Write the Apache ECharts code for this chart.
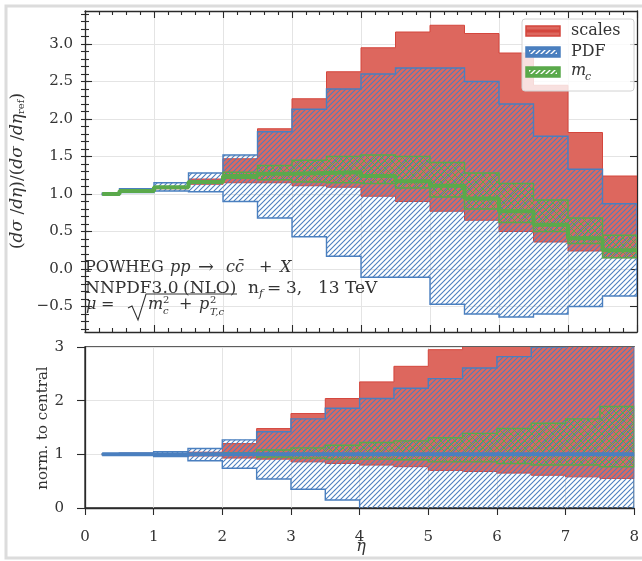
<!DOCTYPE html>
<html>
<head>
<meta charset="utf-8">
<script src="https://cdn.jsdelivr.net/npm/echarts@6/dist/echarts.min.js"></script>
<style>html,body{margin:0;padding:0;background:#fff}#c{width:642px;height:561px}</style>
</head>
<body>
<div id="c"></div>
<script>
// ---- data (bins in eta) ----
const edges = [0.25, 0.5, 1.0, 1.5, 2.0, 2.5, 3.0, 3.5, 4.0, 4.5, 5.0, 5.5, 6.0, 6.5, 7.0, 7.5, 8.0];
// top panel: (dsigma/deta)/(dsigma/deta_ref)
const central  = [1.00, 1.04, 1.09, 1.16, 1.24, 1.27, 1.28, 1.29, 1.24, 1.17, 1.11, 0.94, 0.77, 0.59, 0.41, 0.25];
const scalesHi = [1.01, 1.06, 1.10, 1.20, 1.47, 1.87, 2.27, 2.63, 2.95, 3.16, 3.25, 3.14, 2.88, 2.45, 1.82, 1.24];
const scalesLo = [0.99, 1.03, 1.07, 1.13, 1.15, 1.15, 1.11, 1.09, 0.97, 0.90, 0.77, 0.65, 0.50, 0.36, 0.24, 0.15];
const pdfHi    = [1.01, 1.07, 1.15, 1.28, 1.52, 1.83, 2.13, 2.40, 2.60, 2.68, 2.68, 2.50, 2.20, 1.77, 1.33, 0.87];
const pdfLo    = [0.99, 1.02, 1.04, 1.03, 0.90, 0.68, 0.43, 0.17, -0.11, -0.11, -0.47, -0.60, -0.64, -0.60, -0.50, -0.36];
const mcHi     = [1.00, 1.04, 1.09, 1.17, 1.29, 1.38, 1.45, 1.50, 1.52, 1.50, 1.42, 1.28, 1.14, 0.92, 0.68, 0.45];
const mcLo     = [1.00, 1.04, 1.09, 1.15, 1.21, 1.19, 1.16, 1.15, 1.14, 1.08, 0.96, 0.80, 0.62, 0.50, 0.34, 0.15];
// bottom panel: normalised to central
const ratioCentral = [1.0, 1.0, 1.0, 1.0, 1.0, 1.0, 1.0, 1.0, 1.0, 1.0, 1.0, 1.0, 1.0, 1.0, 1.0, 1.0];
const rScalesHi = [1.01, 1.02, 1.01, 1.04, 1.20, 1.48, 1.76, 2.04, 2.35, 2.64, 2.95, 3.34, 3.74, 4.15, 4.44, 4.96];
const rScalesLo = [0.99, 0.99, 0.98, 0.97, 0.93, 0.91, 0.86, 0.83, 0.80, 0.77, 0.70, 0.68, 0.65, 0.61, 0.58, 0.55];
const rPdfHi    = [1.01, 1.02, 1.05, 1.11, 1.27, 1.42, 1.66, 1.86, 2.04, 2.23, 2.41, 2.61, 2.82, 3.00, 3.24, 3.48];
const rPdfLo    = [0.99, 0.98, 0.96, 0.88, 0.74, 0.54, 0.35, 0.15, -0.09, -0.10, -0.42, -0.64, -0.83, -1.02, -1.22, -1.44];
const rMcHi     = [1.00, 1.00, 1.00, 1.01, 1.03, 1.08, 1.12, 1.17, 1.22, 1.25, 1.31, 1.39, 1.48, 1.58, 1.66, 1.89];
const rMcLo     = [1.00, 1.00, 1.00, 0.99, 0.98, 0.95, 0.93, 0.91, 0.91, 0.90, 0.86, 0.86, 0.83, 0.80, 0.80, 0.77];
// tick labels
const xTicks = [0, 1, 2, 3, 4, 5, 6, 7, 8];
const yTopTicks = [-0.5, 0.0, 0.5, 1.0, 1.5, 2.0, 2.5, 3.0];
const yBotTicks = [0, 1, 2, 3];

// ---- style ----
const FONT = "'DejaVu Serif', serif";
const TXT = '#333';
const FRAME = '#2a2a2a';
const RED = '#dd675e', RED_EDGE = '#d4463d';
const BLUE = '#4a7fbf';
const GREEN = '#5aa94b';
const GRID_C = '#e4e4e4';

const yTopMinor = [];
for (let k = -8; k <= 34; k++) yTopMinor.push(k / 10);
const topMin = -0.84, topMax = 3.44;

function hatch(color, size, lw, dirs) {
  const c = document.createElement('canvas');
  c.width = size; c.height = size;
  const g = c.getContext('2d');
  g.strokeStyle = color; g.lineWidth = lw;
  dirs.forEach(function (d) {
    [-size, 0, size].forEach(function (o) {
      g.beginPath();
      if (d === '/') { g.moveTo(o - 1, size + 1); g.lineTo(o + size + 1, -1); }
      else { g.moveTo(o - 1, -1); g.lineTo(o + size + 1, size + 1); }
      g.stroke();
    });
  });
  return { image: c, repeat: 'repeat' };
}
const pdfPat = hatch(BLUE, 5, 1.1, ['/']);
const mcPat = hatch(GREEN, 7, 1.0, ['/', '\\']);
const whitePat = hatch('#ffffff', 5, 1.3, ['/']);

function band(xi, yi, lo, hi, fill, stroke, lw, z) {
  return {
    type: 'custom', xAxisIndex: xi, yAxisIndex: yi, z: z, silent: true, clip: true,
    data: [[edges[0], lo[0]]],
    renderItem: function (params, api) {
      const pts = [];
      for (let i = 0; i < hi.length; i++) {
        pts.push(api.coord([edges[i], hi[i]]));
        pts.push(api.coord([edges[i + 1], hi[i]]));
      }
      for (let i = lo.length - 1; i >= 0; i--) {
        pts.push(api.coord([edges[i + 1], lo[i]]));
        pts.push(api.coord([edges[i], lo[i]]));
      }
      const cs = params.coordSys;
      return {
        type: 'polygon',
        shape: { points: pts },
        style: { fill: fill, stroke: stroke, lineWidth: lw, lineJoin: 'miter' },
        clipPath: { type: 'rect', shape: { x: cs.x, y: cs.y, width: cs.width, height: cs.height } }
      };
    }
  };
}
function stepLine(xi, yi, vals, color, z) {
  return {
    type: 'line', xAxisIndex: xi, yAxisIndex: yi, z: z, step: 'end', showSymbol: false, silent: true,
    lineStyle: { color: color, width: 4 },
    data: edges.map(function (e, i) { return [e, vals[Math.min(i, vals.length - 1)]]; })
  };
}
function T(x, y, text, size, italic, extra) {
  const st = { text: text, fontFamily: FONT, fontSize: size, fill: TXT, verticalAlign: 'middle' };
  if (italic) st.fontStyle = 'italic';
  if (extra) Object.assign(st, extra);
  return { type: 'text', z: 50, x: x, y: y, silent: true, style: st };
}

const lineSty = { color: FRAME, width: 1.3 };
const tickSty = { color: FRAME, width: 1.1 };
const noSplit = { show: false };
const gridSplit = { show: true, lineStyle: { color: GRID_C, width: 1 } };
const fmtTop = function (v) { return (v < 0 ? '\u2212' : '') + Math.abs(v).toFixed(1); };

const option = {
  animation: false,
  backgroundColor: '#fff',
  grid: [
    { left: 85, right: 5, top: 11, height: 321 },
    { left: 85, right: 5, top: 347, height: 161, show: true, borderColor: FRAME, borderWidth: 1.3, backgroundColor: 'transparent' }
  ],
  xAxis: [
    { gridIndex: 0, type: 'value', min: 0, max: 8, interval: 1, position: 'bottom',
      axisLine: { show: true, onZero: false, lineStyle: lineSty },
      axisTick: { show: true, inside: true, length: 7, lineStyle: tickSty },
      minorTick: { show: true, splitNumber: 5, length: 4, lineStyle: tickSty },
      axisLabel: { show: false }, splitLine: gridSplit },
    { gridIndex: 0, type: 'value', min: 0, max: 8, interval: 1, position: 'top',
      axisLine: { show: true, onZero: false, lineStyle: lineSty },
      axisTick: { show: true, inside: true, length: 7, lineStyle: tickSty },
      minorTick: { show: true, splitNumber: 5, length: 4, lineStyle: tickSty },
      axisLabel: { show: false }, splitLine: noSplit },
    { gridIndex: 1, type: 'value', min: 0, max: 8, interval: 1, position: 'bottom',
      axisLine: { show: true, onZero: false, lineStyle: lineSty },
      axisTick: { show: true, inside: false, length: 7, lineStyle: tickSty, customValues: xTicks },
      axisLabel: { show: true, margin: 22, fontFamily: FONT, fontSize: 15, color: TXT, customValues: xTicks },
      splitLine: gridSplit }
  ],
  yAxis: [
    { gridIndex: 0, type: 'value', min: topMin, max: topMax, position: 'left',
      axisLine: { show: true, onZero: false, lineStyle: lineSty },
      axisTick: { show: true, inside: true, length: 7, lineStyle: tickSty, customValues: yTopTicks },
      axisLabel: { show: true, margin: 12, fontFamily: FONT, fontSize: 15, color: TXT, customValues: yTopTicks, formatter: fmtTop },
      splitLine: gridSplit },
    { gridIndex: 0, type: 'value', min: topMin, max: topMax, position: 'left',
      axisLine: { show: false }, axisTick: { show: true, inside: true, length: 4, lineStyle: tickSty, customValues: yTopMinor },
      axisLabel: { show: false }, splitLine: noSplit },
    { gridIndex: 0, type: 'value', min: topMin, max: topMax, position: 'right',
      axisLine: { show: true, onZero: false, lineStyle: lineSty },
      axisTick: { show: true, inside: true, length: 7, lineStyle: tickSty, customValues: yTopTicks },
      axisLabel: { show: false }, splitLine: noSplit },
    { gridIndex: 0, type: 'value', min: topMin, max: topMax, position: 'right',
      axisLine: { show: false }, axisTick: { show: true, inside: true, length: 4, lineStyle: tickSty, customValues: yTopMinor },
      axisLabel: { show: false }, splitLine: noSplit },
    { gridIndex: 1, type: 'value', min: 0, max: 3, interval: 1, position: 'left',
      axisLine: { show: true, onZero: false, lineStyle: lineSty },
      axisTick: { show: true, inside: false, length: 8, lineStyle: tickSty, customValues: yBotTicks },
      axisLabel: { show: true, margin: 21, fontFamily: FONT, fontSize: 15, color: TXT, customValues: yBotTicks },
      splitLine: gridSplit }
  ],
  series: [
    band(0, 0, scalesLo, scalesHi, RED, RED_EDGE, 1, 2),
    band(0, 0, pdfLo, pdfHi, pdfPat, BLUE, 1.4, 3),
    band(0, 0, mcLo, mcHi, mcPat, GREEN, 1.4, 4),
    stepLine(0, 0, central, GREEN, 5),
    band(2, 4, rScalesLo, rScalesHi, RED, RED_EDGE, 1, 2),
    band(2, 4, rPdfLo, rPdfHi, pdfPat, BLUE, 1.4, 3),
    band(2, 4, rMcLo, rMcHi, mcPat, GREEN, 1.4, 4),
    stepLine(2, 4, ratioCentral, BLUE, 5)
  ],
  graphic: [
    // outer light frame
    { type: 'rect', z: 200, silent: true, shape: { x: 6, y: 6, width: 700, height: 552 }, style: { fill: 'none', stroke: '#dcdcdc', lineWidth: 3 } },
    // legend
    { type: 'rect', z: 100, shape: { x: 522, y: 19, width: 112, height: 72, r: 3 }, style: { fill: 'rgba(255,255,255,0.8)', stroke: '#d2d2d2', lineWidth: 1 } },
    { type: 'rect', z: 101, shape: { x: 526, y: 26, width: 34, height: 10 }, style: { fill: RED, stroke: RED_EDGE, lineWidth: 1.5 } },
    { type: 'line', z: 102, shape: { x1: 526, y1: 31, x2: 560, y2: 31 }, style: { stroke: RED_EDGE, lineWidth: 3 } },
    { type: 'rect', z: 101, shape: { x: 526, y: 47, width: 34, height: 10 }, style: { fill: BLUE, stroke: BLUE, lineWidth: 1.5 } },
    { type: 'rect', z: 102, shape: { x: 529, y: 50, width: 28, height: 4 }, style: { fill: whitePat } },
    { type: 'rect', z: 101, shape: { x: 526, y: 67, width: 34, height: 10 }, style: { fill: GREEN, stroke: GREEN, lineWidth: 1.5 } },
    { type: 'rect', z: 102, shape: { x: 529, y: 70, width: 28, height: 4 }, style: { fill: whitePat } },
    Object.assign(T(571, 31, 'scales', 16, false), { z: 103 }),
    Object.assign(T(571, 52, 'PDF', 16, false), { z: 103 }),
    Object.assign(T(571, 71, 'm', 16, true), { z: 103 }),
    Object.assign(T(585, 77, 'c', 11, true), { z: 103 }),
    // annotation line 1
    T(85, 268, 'POWHEG', 16, false),
    T(170, 268, 'pp', 16, true),
    T(198, 268, '\u2192', 19, false),
    T(226, 268, 'cc\u0304', 16, true),
    T(259, 268, '+', 16, false),
    T(280, 268, 'X', 16, true),
    // annotation line 2
    T(85, 289, 'NNPDF3.0', 17, false),
    T(183, 289, '(NLO)', 17, false),
    T(248, 289, 'n', 17, false),
    T(259, 294, 'f', 11, true),
    T(267, 289, '=', 17, false),
    T(286, 289, '3,', 17, false),
    T(318, 289, '13 TeV', 17, false),
    // annotation line 3
    T(86, 305, '\u03bc', 16, true),
    T(101, 305, '=', 16, false),
    { type: 'polyline', z: 50, silent: true, shape: { points: [[128, 308], [132, 306], [138, 320], [146, 294], [237, 294]] }, style: { fill: 'none', stroke: TXT, lineWidth: 1.1 } },
    T(148, 305, 'm', 16, true),
    T(163, 300, '2', 10, false),
    T(163, 311, 'c', 10, true),
    T(179, 305, '+', 16, false),
    T(199, 305, 'p', 16, true),
    T(210, 300, '2', 10, false),
    T(210, 312, 'T,c', 10, true),
    // axis titles
    { type: 'text', z: 50, x: 16, y: 171, rotation: Math.PI / 2, silent: true, style: {
        text: '{n|(}{i|d\u03c3}{n| /}{i|d\u03b7}{n|)/(}{i|d\u03c3}{n| /}{i|d\u03b7}{s|ref}{n|)}',
        align: 'center', verticalAlign: 'middle', fill: TXT,
        rich: { n: { fontFamily: FONT, fontSize: 17, fill: TXT, lineHeight: 20, verticalAlign: 'bottom' }, i: { fontFamily: FONT, fontStyle: 'italic', fontSize: 17, fill: TXT, lineHeight: 20, verticalAlign: 'bottom' }, s: { fontFamily: FONT, fontSize: 10, fill: TXT, lineHeight: 10, verticalAlign: 'bottom' } } } },
    { type: 'text', z: 50, x: 43, y: 428, rotation: Math.PI / 2, silent: true, style: { text: 'norm. to central', fontFamily: FONT, fontSize: 15, fill: TXT, align: 'center', verticalAlign: 'middle' } },
    T(361, 547, '\u03b7', 16, true, { align: 'center' })
  ]
};
const chart = echarts.init(document.getElementById('c'), null, { renderer: 'canvas' });
chart.setOption(option);
</script>
</body>
</html>
